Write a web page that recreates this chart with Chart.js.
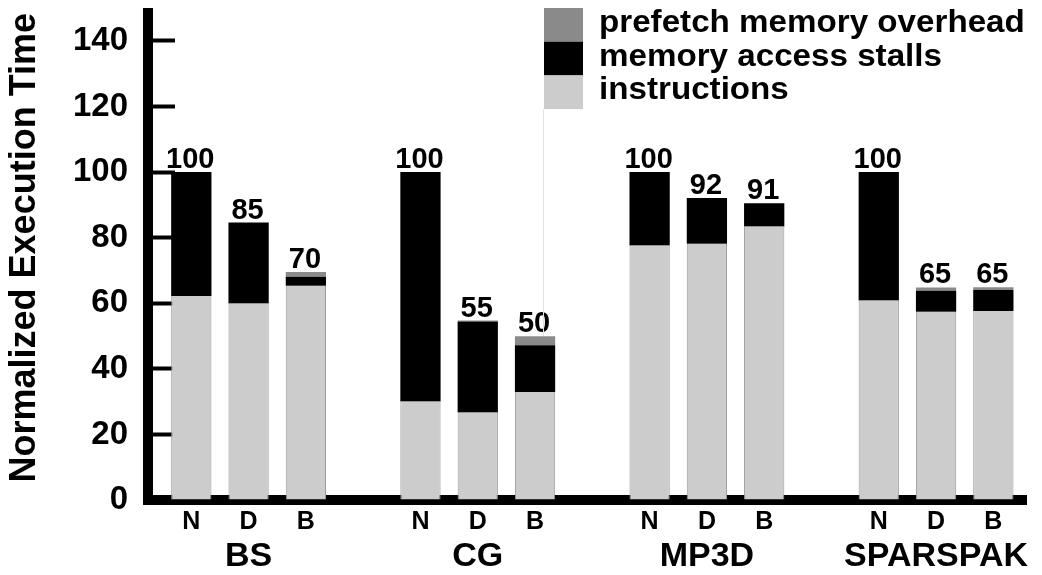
<!DOCTYPE html>
<html>
<head>
<meta charset="utf-8">
<script src="https://cdn.jsdelivr.net/npm/chart.js@4/dist/chart.umd.min.js"></script>
<style>
  body { margin: 0; background: #fff; }
  canvas { display: block; }
</style>
</head>
<body>
<canvas id="execChart" width="1042" height="575"></canvas>
<script>
// slot positions on the x axis (gaps between the groups)
const slots = [0, 1, 2, 4, 5, 6, 8, 9, 10, 12, 13, 14];
const barLabels = ['N', 'D', 'B', 'N', 'D', 'B', 'N', 'D', 'B', 'N', 'D', 'B'];
const groupNames = ['BS', 'CG', 'MP3D', 'SPARSPAK'];
const groupSlots = [1, 5, 9, 13];

const instructions = [62.2, 59.9, 65.3, 30.0, 26.7, 32.9, 77.6, 78.1, 83.4, 60.8, 57.4, 57.6];
const stalls       = [37.8, 24.7, 2.8, 70.0, 27.7, 14.3, 22.4, 14.0, 7.1, 39.2, 6.4, 6.4];
const prefetch     = [0, 0, 1.4, 0, 0.3, 2.7, 0, 0, 0, 0, 1.0, 0.9];
const totals       = [100, 85, 70, 100, 55, 50, 100, 92, 91, 100, 65, 65];

const yTicks = [0, 20, 40, 60, 80, 100, 120, 140];

const FONT = "'Liberation Sans', Arial, Helvetica, sans-serif";
const xMin = -0.756, xMax = 14.57;

function points(values) {
    return slots.map((x, i) => ({ x: x, y: values[i] }));
}

// no extra padding from the scales, the layout is fixed
function noPad(s) {
    s.paddingTop = 0;
    s.paddingBottom = 0;
    s.paddingLeft = 0;
    s.paddingRight = 0;
}

// totals above every bar
const totalLabels = {
    id: 'totalLabels',
    afterDatasetsDraw(chart) {
        const ctx = chart.ctx;
        const top = chart.getDatasetMeta(2);
        ctx.save();
        ctx.font = 'bold 29px ' + FONT;
        ctx.fillStyle = '#000';
        ctx.textAlign = 'center';
        ctx.textBaseline = 'alphabetic';
        top.data.forEach((bar, i) => {
            ctx.fillText(String(totals[i]), bar.x - 1, bar.y - 4);
        });
        ctx.restore();
    }
};

// stacked legend box in the upper right
const boxLegend = {
    id: 'boxLegend',
    afterDraw(chart) {
        const ctx = chart.ctx;
        const sets = chart.data.datasets.slice().reverse();
        const x = 544, w = 39, h = 33.7;
        let y = 8;
        ctx.save();
        ctx.strokeStyle = '#e2e2e2';
        ctx.lineWidth = 1;
        ctx.beginPath();
        ctx.moveTo(543.5, 109);
        ctx.lineTo(543.5, 336);
        ctx.stroke();
        ctx.font = 'bold 31px ' + FONT;
        ctx.textAlign = 'left';
        ctx.textBaseline = 'alphabetic';
        sets.forEach(ds => {
            ctx.fillStyle = ds.backgroundColor;
            ctx.fillRect(x, y, w, h);
            ctx.fillStyle = '#000';
            ctx.save();
            ctx.translate(599, y + h / 2 + 7);
            ctx.scale(1.07, 1);
            ctx.fillText(ds.label, 0, 0);
            ctx.restore();
            y += h;
        });
        ctx.restore();
    }
};

const canvas = document.getElementById('execChart');
const chart = new Chart(canvas.getContext('2d'), {
    type: 'bar',
    data: {
        datasets: [
            {
                label: 'instructions',
                data: points(instructions),
                backgroundColor: '#cccccc',
                borderColor: '#9a9a9a',
                borderWidth: { left: 1, right: 1, top: 0, bottom: 0 }
            },
            {
                label: 'memory access stalls',
                data: points(stalls),
                backgroundColor: '#000000',
                borderWidth: 0
            },
            {
                label: 'prefetch memory overhead',
                data: points(prefetch),
                backgroundColor: '#8a8a8a',
                borderWidth: 0
            }
        ]
    },
    options: {
        responsive: false,
        animation: false,
        barPercentage: 0.703,
        categoryPercentage: 1,
        layout: { padding: { top: 13, right: 16, left: 0, bottom: 0 } },
        plugins: {
            legend: { display: false },
            tooltip: { enabled: false }
        },
        scales: {
            x: {
                type: 'linear',
                stacked: true,
                offset: false,
                min: xMin,
                max: xMax,
                z: 1,
                weight: 0,
                afterFit: s => { s.height = 36; noPad(s); },
                grid: { display: false, drawTicks: false },
                border: { display: true, width: 10, color: '#000' },
                ticks: {
                    stepSize: 1,
                    includeBounds: false,
                    autoSkip: false,
                    maxRotation: 0,
                    padding: 7,
                    color: '#000',
                    font: { family: FONT, size: 25, weight: 'bold' },
                    callback: v => {
                        const i = slots.indexOf(v);
                        return i >= 0 ? barLabels[i] : '';
                    }
                }
            },
            x2: {
                type: 'linear',
                position: 'bottom',
                offset: false,
                min: xMin,
                max: xMax,
                weight: 1,
                afterFit: s => { s.height = 39; noPad(s); },
                grid: { display: false, drawTicks: false },
                border: { display: false },
                ticks: {
                    stepSize: 1,
                    includeBounds: false,
                    autoSkip: false,
                    maxRotation: 0,
                    padding: 0,
                    color: '#000',
                    font: { family: FONT, size: 34, weight: 'bold' },
                    callback: v => {
                        const i = groupSlots.indexOf(v);
                        return i >= 0 ? groupNames[i] : '';
                    }
                }
            },
            y: {
                stacked: true,
                min: 0,
                max: 148.5,
                z: 1,
                afterFit: s => { s.width = 148; noPad(s); },
                afterBuildTicks: s => { s.ticks = yTicks.map(v => ({ value: v })); },
                grid: {
                    display: true,
                    drawOnChartArea: false,
                    drawTicks: true,
                    tickLength: -27,
                    tickWidth: 4,
                    tickColor: '#000'
                },
                border: { display: true, width: 10, color: '#000' },
                ticks: {
                    padding: 47,
                    color: '#000',
                    font: { family: FONT, size: 33, weight: 'bold' }
                },
                title: {
                    display: true,
                    text: 'Normalized Execution Time',
                    align: 'end',
                    color: '#000',
                    padding: { top: 3, bottom: 0 },
                    font: { family: FONT, size: 36, weight: 'bold' }
                }
            }
        }
    },
    plugins: [totalLabels, boxLegend]
});
</script>
</body>
</html>
